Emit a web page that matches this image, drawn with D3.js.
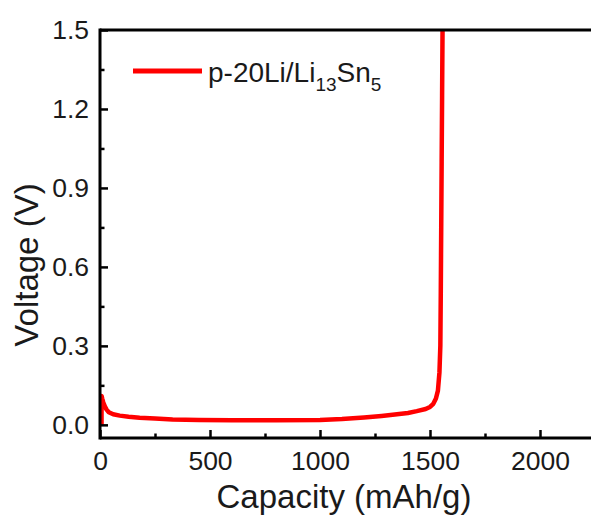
<!DOCTYPE html>
<html><head><meta charset="utf-8">
<script src="https://cdn.jsdelivr.net/npm/d3@7"></script>
<style>html,body{margin:0;padding:0;background:#fff;}svg{display:block;}</style>
</head><body>
<script>
const capacity = [7, 7, 10, 15, 22, 30, 40, 60, 90, 130, 180, 250, 330, 450, 600, 800, 1000, 1100, 1200, 1280, 1350, 1400, 1440, 1480, 1500, 1515, 1527, 1536, 1543, 1547, 1549, 1551, 1553, 1555, 1557];
const voltage  = [0.0, 0.11, 0.1, 0.085, 0.07, 0.058, 0.048, 0.04, 0.035, 0.031, 0.027, 0.024, 0.02, 0.018, 0.017, 0.017, 0.018, 0.022, 0.028, 0.034, 0.04, 0.045, 0.052, 0.06, 0.068, 0.08, 0.1, 0.13, 0.2, 0.3, 0.5, 0.75, 1.0, 1.25, 1.5];
const xMajorTicks = [0, 500, 1000, 1500, 2000];
const xMinorTicks = [250, 750, 1250, 1750];
const yMajorTicks = [0, 0.3, 0.6, 0.9, 1.2, 1.5];
const yMinorTicks = [0.15, 0.45, 0.75, 1.05, 1.35];
const seriesName = "p-20Li/Li";

(function(){
const W = 591, H = 531;
const pl = 100, pt = 30, pr = 595, pb = 438;
const svg = d3.select("body").append("svg").attr("width", W).attr("height", H);
const x = d3.scaleLinear().domain([0, 2250]).range([pl, pr]);
const y = d3.scaleLinear().domain([-0.05, 1.5]).range([pb, pt]);
const font = "Arial, 'Liberation Sans', sans-serif";
const ink = "#1a1a1a";

svg.append("defs").append("clipPath").attr("id","clip")
  .append("rect").attr("x", pl).attr("y", pt).attr("width", pr-pl).attr("height", pb-pt);

const line = d3.line().x((d,i)=>x(capacity[i])).y((d,i)=>y(voltage[i]));
svg.append("path").datum(voltage).attr("d", line).attr("fill","none")
  .attr("stroke","#f00").attr("stroke-width",4.5).attr("stroke-linejoin","round")
  .attr("clip-path","url(#clip)");

function axisG(axis, tf){
  const g = svg.append("g").attr("transform", tf).call(axis);
  g.selectAll("text").attr("font-family", font).attr("fill",ink);
  g.select(".domain").remove();
  g.selectAll("line").attr("stroke","#000").attr("stroke-width",2.5);
  return g;
}
const xb = axisG(d3.axisBottom(x).tickValues(xMajorTicks).tickSize(-8).tickPadding(13).tickFormat(d3.format("d")), `translate(0,${pb})`);
xb.selectAll("text").attr("font-size", 26.5);
axisG(d3.axisBottom(x).tickValues(xMinorTicks).tickSize(-4.5).tickFormat(""), `translate(0,${pb})`);
const yl = axisG(d3.axisLeft(y).tickValues(yMajorTicks).tickSize(-8).tickPadding(11).tickFormat(d3.format(".1f")), `translate(${pl},0)`);
yl.selectAll("text").attr("font-size", 26.5);
axisG(d3.axisLeft(y).tickValues(yMinorTicks).tickSize(-4.5).tickFormat(""), `translate(${pl},0)`);

svg.append("line").attr("x1",pl).attr("x2",W).attr("y1",pt).attr("y2",pt).attr("stroke","#000").attr("stroke-width",3);
svg.append("line").attr("x1",pl).attr("x2",W).attr("y1",pb).attr("y2",pb).attr("stroke","#000").attr("stroke-width",3);
svg.append("line").attr("x1",pl).attr("x2",pl).attr("y1",pt-1.5).attr("y2",pb+1.5).attr("stroke","#000").attr("stroke-width",3);

svg.append("text").attr("x", 344).attr("y", 508).attr("text-anchor","middle")
  .attr("font-family", font).attr("font-size", 33).attr("fill",ink).text("Capacity (mAh/g)");
svg.append("text").attr("transform","translate(38,265) rotate(-90)").attr("text-anchor","middle")
  .attr("font-family", font).attr("font-size", 33).attr("fill",ink).text("Voltage (V)");

svg.append("line").attr("x1",133).attr("x2",202).attr("y1",71).attr("y2",71).attr("stroke","#f00").attr("stroke-width",5);
const lt = svg.append("text").attr("x",208).attr("y",82).attr("font-family",font).attr("font-size",28).attr("fill",ink);
lt.append("tspan").text(seriesName);
lt.append("tspan").attr("font-size",19).attr("dy",9).text("13");
lt.append("tspan").attr("dy",-9).text("Sn");
lt.append("tspan").attr("font-size",19).attr("dy",9).text("5");
})();
</script>
</body></html>
